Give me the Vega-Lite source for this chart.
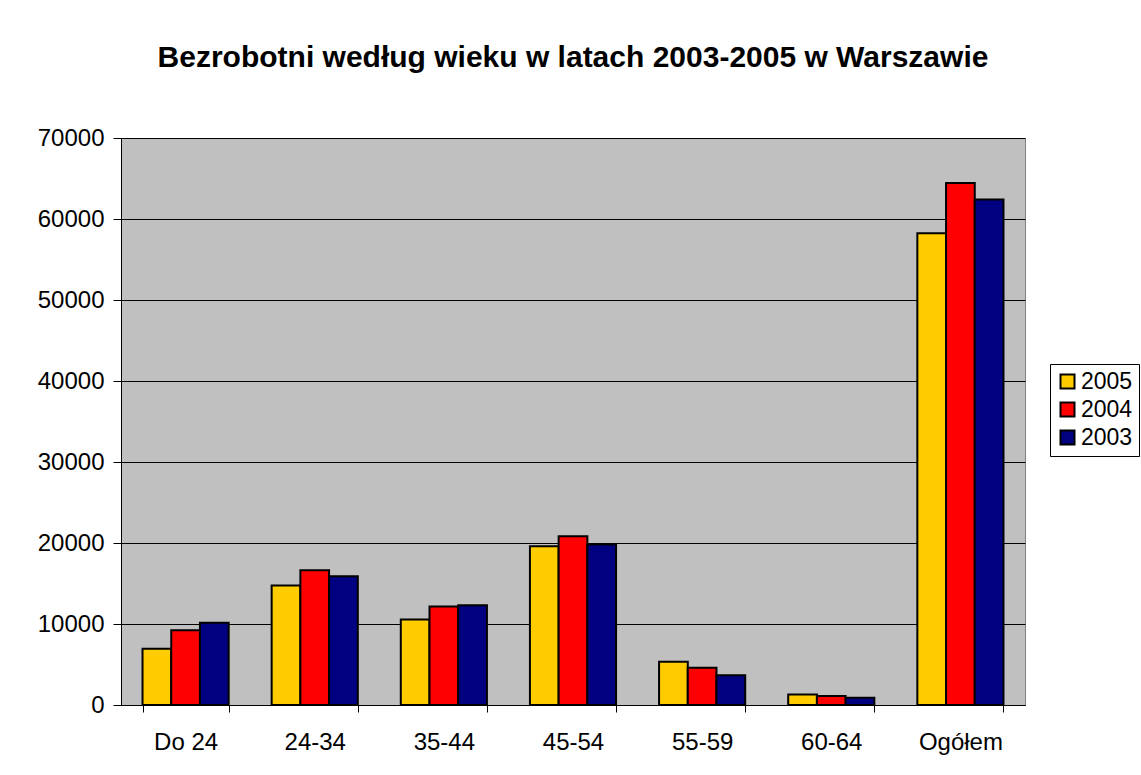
{
  "$schema": "https://vega.github.io/schema/vega-lite/v6.json",
  "width": 904,
  "height": 567,
  "autosize": {"type": "none"},
  "padding": {"left": 121, "top": 138, "right": 116, "bottom": 70},
  "background": "white",
  "title": {
    "text": "Bezrobotni według wieku w latach 2003-2005 w Warszawie",
    "font": "Liberation Sans",
    "fontSize": 30,
    "fontWeight": "bold",
    "color": "black",
    "anchor": "middle",
    "offset": 53
  },
  "data": {
    "values": [
      {"grupa": "Do 24", "rok": "2005", "liczba": 6940},
      {"grupa": "Do 24", "rok": "2004", "liczba": 9230},
      {"grupa": "Do 24", "rok": "2003", "liczba": 10150},
      {"grupa": "24-34", "rok": "2005", "liczba": 14750},
      {"grupa": "24-34", "rok": "2004", "liczba": 16640},
      {"grupa": "24-34", "rok": "2003", "liczba": 15900},
      {"grupa": "35-44", "rok": "2005", "liczba": 10560},
      {"grupa": "35-44", "rok": "2004", "liczba": 12160},
      {"grupa": "35-44", "rok": "2003", "liczba": 12320},
      {"grupa": "45-54", "rok": "2005", "liczba": 19600},
      {"grupa": "45-54", "rok": "2004", "liczba": 20830},
      {"grupa": "45-54", "rok": "2003", "liczba": 19800},
      {"grupa": "55-59", "rok": "2005", "liczba": 5350},
      {"grupa": "55-59", "rok": "2004", "liczba": 4600},
      {"grupa": "55-59", "rok": "2003", "liczba": 3660},
      {"grupa": "60-64", "rok": "2005", "liczba": 1300},
      {"grupa": "60-64", "rok": "2004", "liczba": 1100},
      {"grupa": "60-64", "rok": "2003", "liczba": 900},
      {"grupa": "Ogółem", "rok": "2005", "liczba": 58250},
      {"grupa": "Ogółem", "rok": "2004", "liczba": 64450},
      {"grupa": "Ogółem", "rok": "2003", "liczba": 62400}
    ]
  },
  "mark": {"type": "bar", "stroke": "black", "strokeWidth": 2},
  "encoding": {
    "x": {
      "field": "grupa",
      "type": "nominal",
      "sort": ["Do 24", "24-34", "35-44", "45-54", "55-59", "60-64", "Ogółem"],
      "scale": {"paddingInner": 0.333, "paddingOuter": 0.1667},
      "axis": {
        "title": null,
        "labelAngle": 0,
        "tickBand": "extent",
        "labelFont": "Liberation Sans",
        "labelFontSize": 24,
        "labelColor": "black",
        "labelPadding": 18,
        "domainColor": "black",
        "tickColor": "black",
        "tickSize": 7,
        "grid": false
      }
    },
    "xOffset": {
      "field": "rok",
      "type": "nominal",
      "sort": ["2005", "2004", "2003"],
      "scale": {"paddingInner": 0, "paddingOuter": 0}
    },
    "y": {
      "field": "liczba",
      "type": "quantitative",
      "scale": {"domain": [0, 70000], "nice": false},
      "axis": {
        "title": null,
        "values": [0, 10000, 20000, 30000, 40000, 50000, 60000, 70000],
        "format": "d",
        "labelFont": "Liberation Sans",
        "labelFontSize": 24,
        "labelColor": "black",
        "labelPadding": 9,
        "domainColor": "black",
        "tickColor": "black",
        "tickSize": 8,
        "grid": true,
        "gridColor": "black",
        "gridWidth": 1,
        "gridOpacity": 1
      }
    },
    "color": {
      "field": "rok",
      "type": "nominal",
      "sort": ["2005", "2004", "2003"],
      "scale": {"domain": ["2005", "2004", "2003"], "range": ["#FFCC00", "#FF0000", "#000080"]},
      "legend": {
        "title": null,
        "orient": "none",
        "legendX": 929,
        "legendY": 226,
        "symbolType": "square",
        "symbolSize": 196,
        "symbolStrokeColor": "black",
        "symbolStrokeWidth": 2,
        "symbolOpacity": 1,
        "labelFont": "Liberation Sans",
        "labelFontSize": 23,
        "labelColor": "black",
        "labelOffset": 2,
        "rowPadding": 4,
        "padding": 6,
        "strokeColor": "black",
        "fillColor": "white"
      }
    }
  },
  "config": {
    "view": {"fill": "#C0C0C0", "stroke": "#808080", "strokeWidth": 1}
  }
}
